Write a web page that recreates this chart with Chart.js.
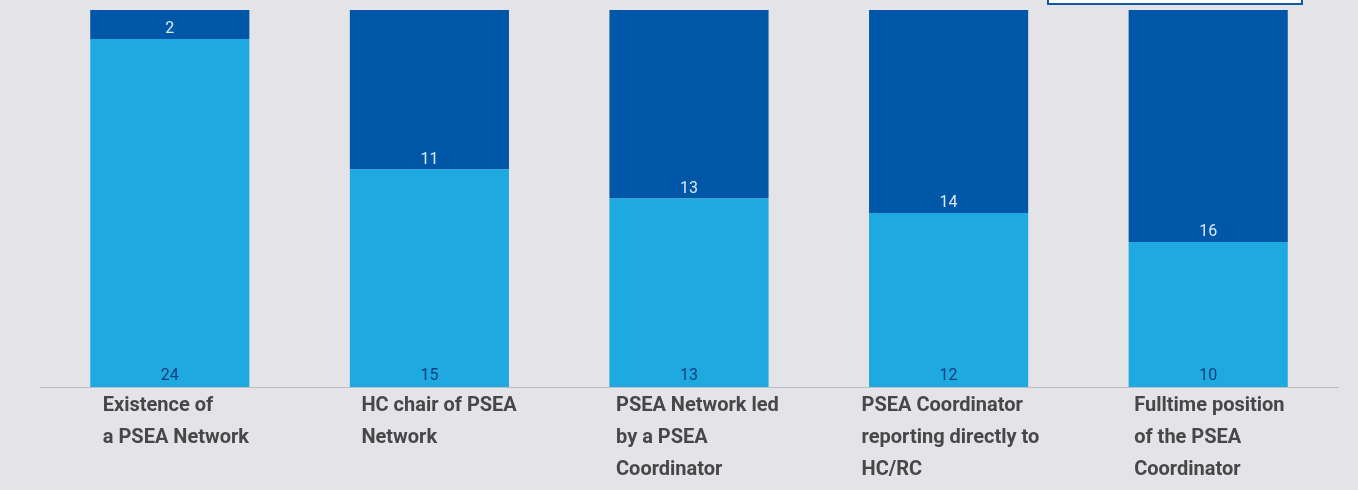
<!DOCTYPE html>
<html>
<head>
<meta charset="utf-8">
<script src="https://cdn.jsdelivr.net/npm/chart.js@4"></script>
<style>
  html, body { margin: 0; padding: 0; background: #e4e4e8; overflow: hidden; }
  #wrap { position: relative; width: 1358px; height: 490px; }
  #legendEdge { position: absolute; left: 1047px; top: -40px; width: 252px; height: 41px; border: 2px solid #0d5aa8; background: #fff; }
</style>
</head>
<body>
<div id="wrap">
  <canvas id="chart" width="1358" height="490"></canvas>
  <div id="legendEdge"></div>
</div>
<script>
// categories (each label split into lines)
const categories = [
  ["Existence of", "a PSEA Network"],
  ["HC chair of PSEA", "Network"],
  ["PSEA Network led", "by a PSEA", "Coordinator"],
  ["PSEA Coordinator", "reporting directly to", "HC/RC"],
  ["Fulltime position", "of the PSEA", "Coordinator"]
];
const yesValues = [24, 15, 13, 12, 10];
const noValues = [2, 11, 13, 14, 16];

const lightBlue = '#1fa9e1';
const darkBlue = '#0057a8';

// where each label block starts, relative to the bar centre
const labelShift = [-67, -68, -73, -87, -74];

// value labels on the bars
const valueLabels = {
  id: 'valueLabels',
  afterDatasetsDraw(chart) {
    const ctx = chart.ctx;
    const base = chart.scales.y.getPixelForValue(0);
    ctx.save();
    ctx.font = '16px Roboto';
    ctx.textAlign = 'center';
    ctx.textBaseline = 'bottom';
    chart.getDatasetMeta(0).data.forEach((bar, i) => {
      ctx.fillStyle = '#0d3f7c';
      ctx.fillText(yesValues[i], bar.x, base - 3);
      ctx.fillStyle = '#dceaf7';
      ctx.fillText(noValues[i], bar.x, bar.y - 2);
    });
    ctx.restore();
  }
};

// left-aligned category labels under the bars
const catLabels = {
  id: 'catLabels',
  afterDraw(chart) {
    const ctx = chart.ctx;
    const base = chart.scales.y.getPixelForValue(0);
    ctx.save();
    ctx.font = 'bold 20px Roboto';
    ctx.fillStyle = '#474747';
    ctx.textAlign = 'left';
    ctx.textBaseline = 'middle';
    chart.getDatasetMeta(0).data.forEach((bar, i) => {
      const left = bar.x + labelShift[i];
      categories[i].forEach((line, j) => {
        ctx.fillText(line, left, base + 19 + j * 32);
      });
    });
    ctx.restore();
  }
};

new Chart(document.getElementById('chart'), {
  type: 'bar',
  data: {
    labels: categories,
    datasets: [
      { label: 'Yes', data: yesValues, backgroundColor: lightBlue },
      { label: 'No', data: noValues, backgroundColor: darkBlue }
    ]
  },
  options: {
    responsive: false,
    animation: false,
    layout: { padding: { left: 40, right: 20, top: 10, bottom: 95 } },
    plugins: { legend: { display: false }, tooltip: { enabled: false } },
    datasets: { bar: { barPercentage: 0.613, categoryPercentage: 1 } },
    scales: {
      x: {
        stacked: true,
        grid: { display: false },
        border: { display: true, color: '#bdbdc2', width: 1 },
        ticks: { display: false }
      },
      y: {
        stacked: true,
        display: false,
        min: 0,
        max: 26
      }
    }
  },
  plugins: [valueLabels, catLabels]
});
</script>
</body>
</html>
